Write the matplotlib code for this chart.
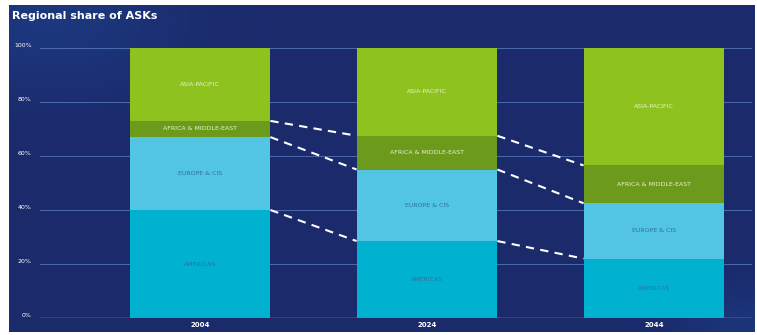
import numpy as np
import matplotlib.pyplot as plt
from matplotlib.colors import to_rgb

years = ['2004', '2024', '2044']
regions = ['AMERICAS', 'EUROPE & CIS', 'AFRICA & MIDDLE-EAST', 'ASIA-PACIFIC']
americas = [40, 28.5, 22]
europe = [27, 26.5, 20.5]
africa_me = [6, 12.5, 14]
asia_pac = [27, 32.5, 43.5]
yticks = [0, 20, 40, 60, 80, 100]

colors = ['#00b2d0', '#52c5e2', '#6b9a1c', '#8dc21f']
text_cols = ['#2f6fa6', '#2f6fa6', '#e8f3c8', '#e8f3c8']

fig = plt.figure(figsize=(7.57, 3.35), dpi=100)
fig.patch.set_facecolor('white')

# dark panel with soft gradient
bg = fig.add_axes([9/757, 3/335, 746/757, 327/335])
bg.set_axis_off()
h, w = 100, 200
yy, xx = np.mgrid[0:1:h*1j, 0:1:w*1j]
navy = np.array(to_rgb('#1a2a6b'))
light = np.array(to_rgb('#2250a0'))
t = np.clip(0.35 * np.exp(-((xx - 0.05) ** 2 / 0.03 + (yy - 0.05) ** 2 / 0.05))
            + 0.3 * np.exp(-((xx - 1.0) ** 2 / 0.01 + (yy - 1.0) ** 2 / 0.02)), 0, 1)
img = navy[None, None, :] * (1 - t[..., None]) + light[None, None, :] * t[..., None]
bg.imshow(img, aspect='auto', extent=[0, 1, 0, 1], origin='upper')
bg.text(0.004, 0.965, 'Regional share of ASKs', color='white', fontsize=8,
        fontweight='bold', va='center', ha='left', transform=bg.transAxes)

ax = fig.add_axes([40/757, 17/335, 712/757, 270/335])
ax.set_facecolor('none')
x = np.arange(len(years))
width = 0.62

for yv in yticks:
    ax.axhline(yv, color='#9ab8ec' if yv == 0 else '#5d7fc4', lw=1.0 if yv == 0 else 0.7,
               alpha=0.9 if yv == 0 else 0.75, zorder=0)

series = [americas, europe, africa_me, asia_pac]
bottom = np.zeros(len(years))
for vals, name, c, tc in zip(series, regions, colors, text_cols):
    vals = np.array(vals)
    ax.bar(x, vals, width, bottom=bottom, color=c, zorder=2)
    for xi, b, v in zip(x, bottom, vals):
        ax.text(xi, b + v / 2, name, ha='center', va='center', fontsize=4.5,
                color=tc, zorder=3)
    bottom = bottom + vals

# dashed connectors between boundaries
cum = np.cumsum(np.array(series), axis=0)
for level in cum[:3]:
    for i in range(len(years) - 1):
        ax.plot([x[i] + width / 2, x[i + 1] - width / 2], [level[i], level[i + 1]],
                color='white', lw=1.5, ls=(0, (4, 3)), zorder=1)

ax.set_xlim(-0.705, 2.432)
ax.set_ylim(0, 100)
for s in ax.spines.values():
    s.set_visible(False)
ax.set_yticks(yticks)
ax.set_yticklabels([f'{v}%' for v in yticks], fontsize=4.5, color='white')
ax.tick_params(axis='y', length=0, pad=6)
ax.set_xticks(x)
ax.set_xticklabels(years, fontsize=5, color='white', fontweight='bold')
ax.tick_params(axis='x', length=0, pad=3)
for lbl in ax.get_yticklabels():
    lbl.set_verticalalignment('bottom')

fig.savefig('out.png', dpi=100, facecolor=fig.get_facecolor())
